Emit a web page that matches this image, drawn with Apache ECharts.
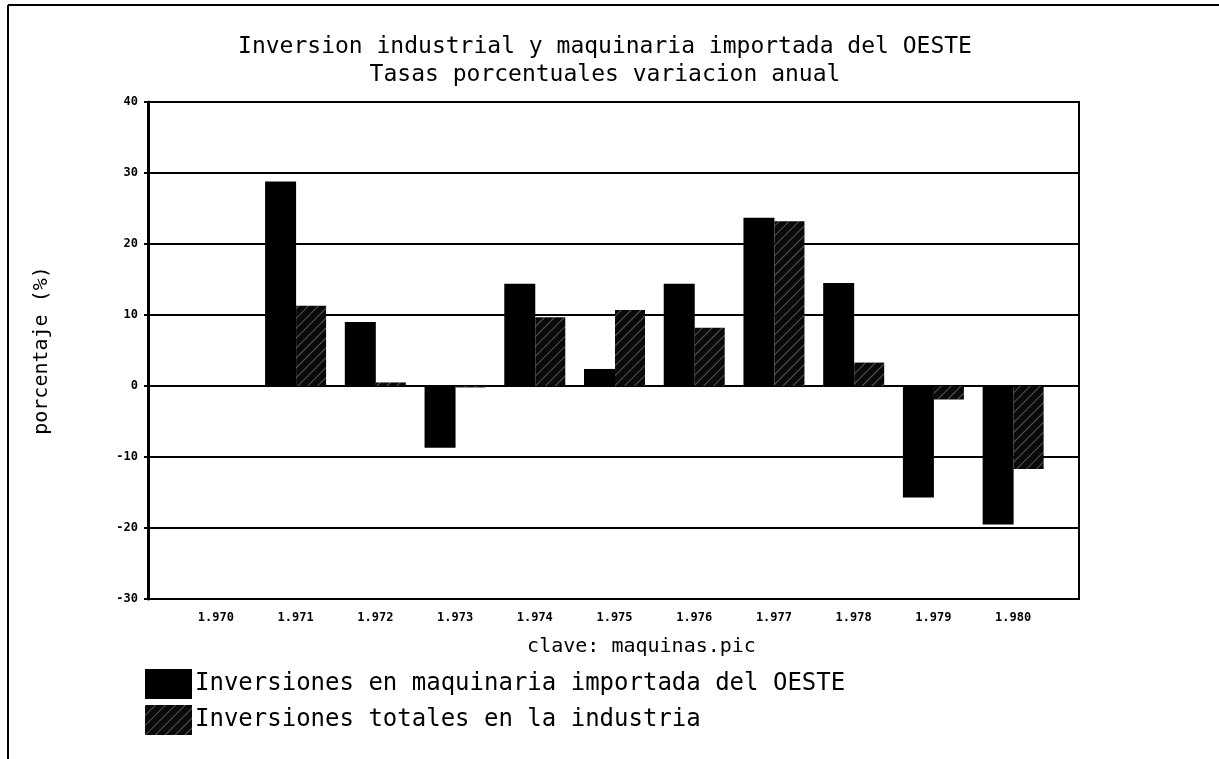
<!DOCTYPE html>
<html>
<head>
<meta charset="utf-8">
<title>maquinas.pic</title>
<script src="https://cdn.jsdelivr.net/npm/echarts@6/dist/echarts.min.js"></script>
<style>
  html, body { margin: 0; padding: 0; background: #fff; }
  #main { width: 1219px; height: 759px; }
</style>
</head>
<body>
<div id="main"></div>
<script>
const years = ['1.970', '1.971', '1.972', '1.973', '1.974', '1.975', '1.976', '1.977', '1.978', '1.979', '1.980']
const maquinaria = [null, 28.8, 9.0, -8.7, 14.4, 2.4, 14.4, 23.7, 14.5, -15.7, -19.5]
const industria = [null, 11.3, 0.5, -0.2, 9.7, 10.7, 8.2, 23.2, 3.3, -1.9, -11.7]
const yTicks = { min: -30, max: 40, interval: 10 }

const mono = 'DejaVu Sans Mono'
const myChart = echarts.init(document.getElementById('main'))

const option = {
    animation: false,
    backgroundColor: '#fff',
    title: {
        text: 'Inversion industrial y maquinaria importada del OESTE\nTasas porcentuales variacion anual',
        left: 600,
        textAlign: 'center',
        top: 28,
        textStyle: {
            fontFamily: mono,
            fontWeight: 'normal',
            fontSize: 23,
            lineHeight: 28,
            color: '#000'
        }
    },
    legend: {
        orient: 'vertical',
        left: 140,
        top: 664,
        itemWidth: 47,
        itemHeight: 30,
        itemGap: 6,
        icon: 'rect',
        textStyle: { fontFamily: mono, fontSize: 24, color: '#000', padding: [6, 0, 0, -2] },
        data: ['Inversiones en maquinaria importada del OESTE', 'Inversiones totales en la industria']
    },
    graphic: [
        { type: 'line', shape: { x1: 8, y1: 5, x2: 1219, y2: 5 }, style: { stroke: '#000', lineWidth: 2 } },
        { type: 'line', shape: { x1: 8, y1: 5, x2: 8, y2: 759 }, style: { stroke: '#000', lineWidth: 2 } }
    ],
    grid: [
        // frame with the gridlines
        { left: 148, right: 140, top: 102, bottom: 160, show: true, borderColor: '#000', borderWidth: 2, containLabel: false },
        // the bars
        { left: 176, right: 166, top: 102, bottom: 160, containLabel: false }
    ],
    xAxis: [
        { gridIndex: 0, type: 'category', data: years, show: false },
        {
            gridIndex: 1,
            type: 'category',
            data: years,
            axisLine: { show: false },
            axisTick: { show: false },
            axisLabel: { fontFamily: mono, fontWeight: 'bold', fontSize: 12, color: '#000', margin: 13 },
            name: 'clave: maquinas.pic',
            nameLocation: 'middle',
            nameGap: 38,
            nameTextStyle: { fontFamily: mono, fontSize: 20, color: '#000', padding: [0, 0, 0, 54] }
        }
    ],
    yAxis: [
        {
            gridIndex: 0,
            type: 'value',
            min: yTicks.min,
            max: yTicks.max,
            interval: yTicks.interval,
            axisLine: { show: true, lineStyle: { color: '#000', width: 3 } },
            axisTick: { show: true, length: 4, lineStyle: { color: '#000', width: 2 } },
            axisLabel: { fontFamily: mono, fontWeight: 'bold', fontSize: 12, color: '#000', margin: 10 },
            splitLine: { show: true, lineStyle: { color: '#000', width: 2 } },
            name: 'porcentaje (%)',
            nameLocation: 'middle',
            nameGap: 96,
            nameTextStyle: { fontFamily: mono, fontSize: 20, color: '#000' }
        },
        {
            gridIndex: 1,
            type: 'value',
            min: yTicks.min,
            max: yTicks.max,
            interval: yTicks.interval,
            show: false
        }
    ],
    series: [
        {
            name: 'Inversiones en maquinaria importada del OESTE',
            type: 'bar',
            xAxisIndex: 1,
            yAxisIndex: 1,
            barWidth: 31,
            barGap: '0%',
            itemStyle: { color: '#000' },
            data: maquinaria
        },
        {
            name: 'Inversiones totales en la industria',
            type: 'bar',
            xAxisIndex: 1,
            yAxisIndex: 1,
            barWidth: 30,
            itemStyle: {
                color: '#0a0a0a',
                decal: {
                    symbol: 'rect',
                    color: 'rgba(255,255,255,0.3)',
                    dashArrayX: [1, 0],
                    dashArrayY: [1, 6],
                    rotation: -Math.PI / 4
                }
            },
            data: industria
        }
    ]
}

myChart.setOption(option)
</script>
</body>
</html>
